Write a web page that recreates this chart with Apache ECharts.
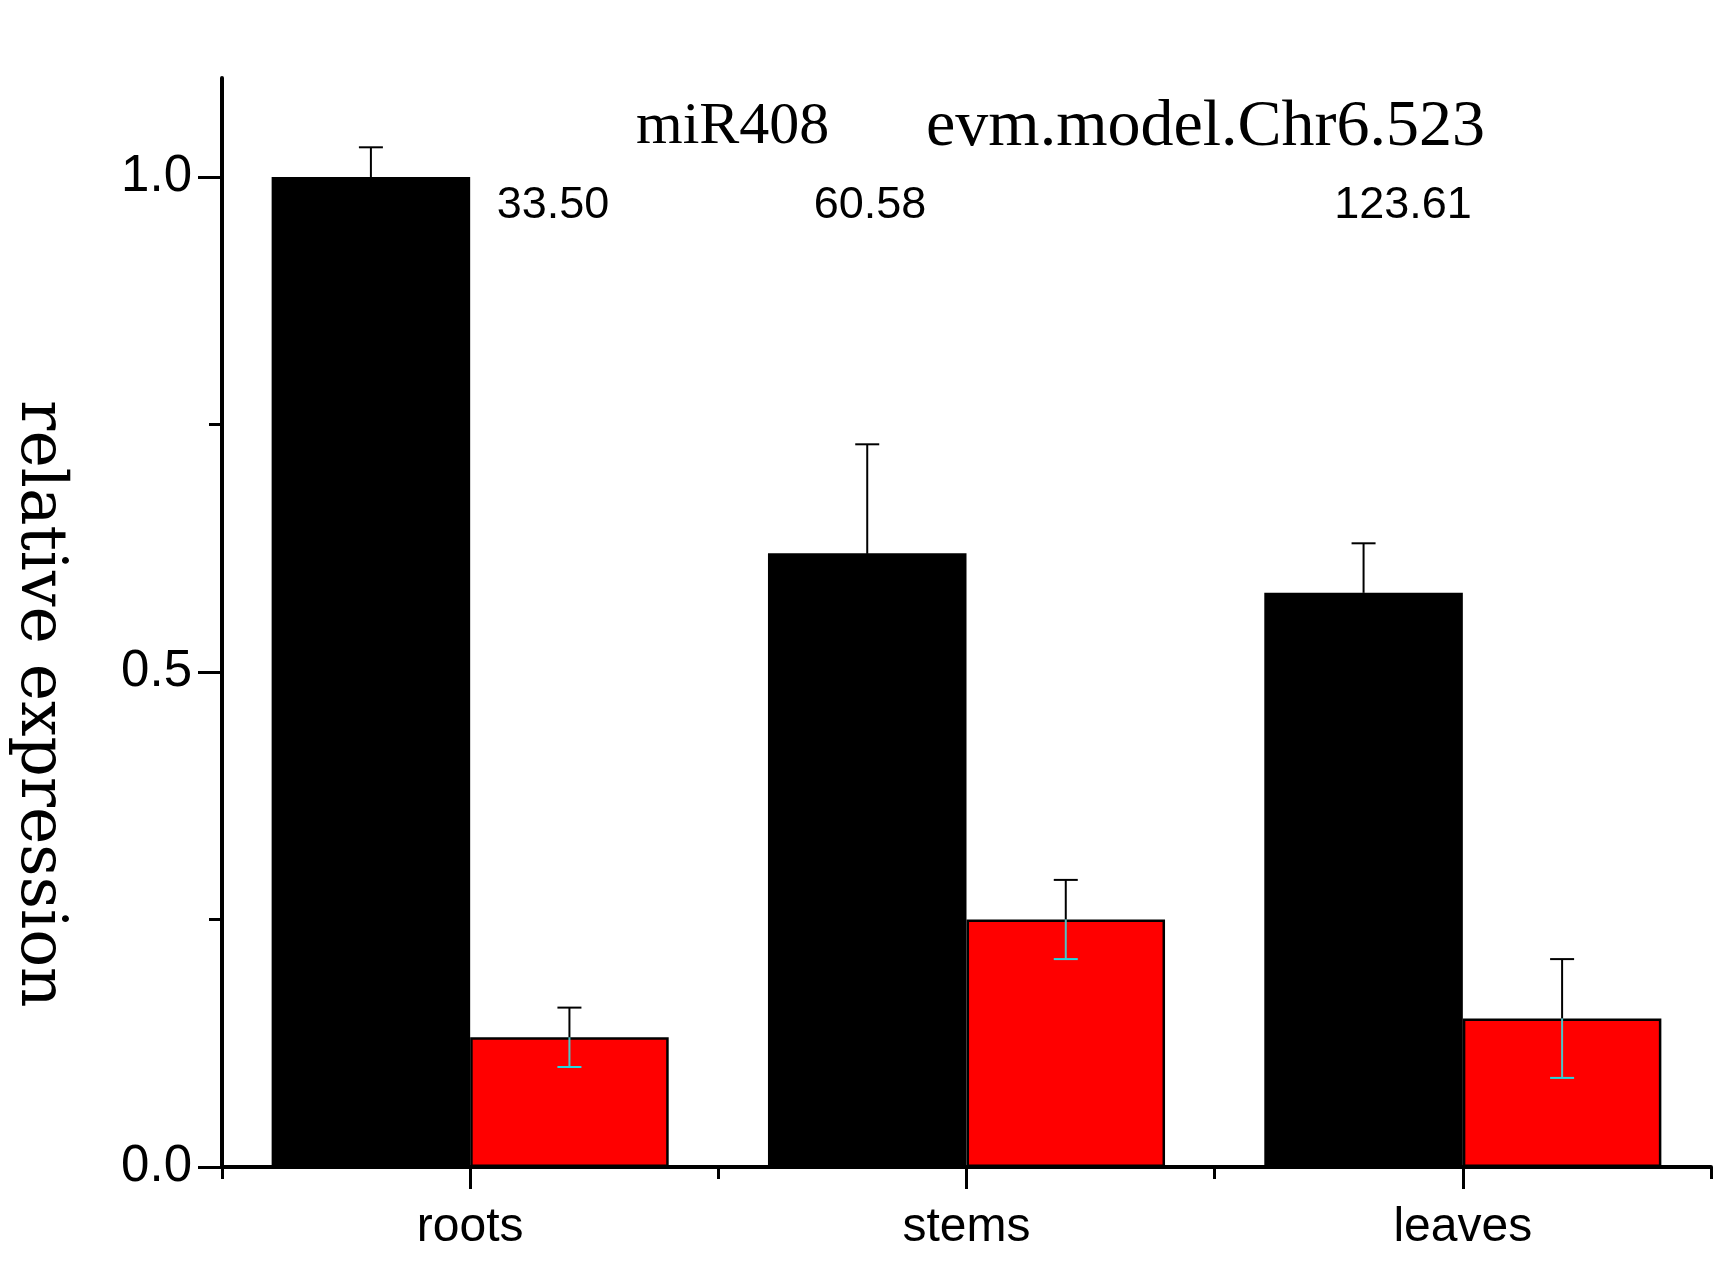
<!DOCTYPE html>
<html>
<head>
<meta charset="utf-8">
<script src="https://cdn.jsdelivr.net/npm/echarts@6/dist/echarts.min.js"></script>
<style>
html,body{margin:0;padding:0;background:#fff;}
#chart{width:1725px;height:1264px;}
</style>
</head>
<body>
<div id="chart"></div>
<script>
const categories = ['roots', 'stems', 'leaves'];
const miRValues = [1.0, 0.62, 0.58];
const miRErrors = [0.03, 0.11, 0.05];
const targetValues = [0.131, 0.25, 0.15];
const targetErrors = [0.03, 0.04, 0.06];
const ratioLabels = ['33.50', '60.58', '123.61'];
const yTicks = [0, 0.5, 1.0];
const titleLeft = 'miR408';
const titleRight = 'evm.model.Chr6.523';
const yName = 'relative expression';

const chart = echarts.init(document.getElementById('chart'));

function errItem(side, lowerColor, capColor) {
  return function (params, api) {
    const ci = api.value(0), v = api.value(1), e = api.value(2);
    const bw = api.size([1, 0])[0];
    const c = api.coord([ci, v]);
    const t = api.coord([ci, v + e]);
    const b = api.coord([ci, v - e]);
    const x = c[0] + side * bw * 0.2;
    const hw = 12;
    return {
      type: 'group',
      children: [
        {type: 'line', shape: {x1: x, y1: c[1], x2: x, y2: t[1]}, style: {stroke: '#000', lineWidth: 2}},
        {type: 'line', shape: {x1: x - hw, y1: t[1], x2: x + hw, y2: t[1]}, style: {stroke: '#000', lineWidth: 2}},
        {type: 'line', shape: {x1: x, y1: c[1], x2: x, y2: b[1]}, style: {stroke: lowerColor, lineWidth: 2}},
        {type: 'line', shape: {x1: x - hw, y1: b[1], x2: x + hw, y2: b[1]}, style: {stroke: capColor, lineWidth: 2}}
      ]
    };
  };
}

const option = {
  backgroundColor: '#fff',
  animation: false,
  grid: [
    {left: 222, right: 14, top: 78, bottom: 97},
    {left: 222, right: 14, top: 177, bottom: 97}
  ],
  xAxis: [
    {
      type: 'category', gridIndex: 0, data: categories,
      axisLine: {lineStyle: {color: '#000', width: 4}},
      axisTick: {show: true, length: 12, lineStyle: {color: '#000', width: 3}},
      axisLabel: {color: '#000', fontFamily: 'Liberation Sans', fontSize: 48, margin: 37}
    },
    {
      type: 'category', gridIndex: 1, data: categories,
      axisLine: {show: false},
      axisTick: {show: true, alignWithLabel: true, length: 22, lineStyle: {color: '#000', width: 3}},
      axisLabel: {show: false}
    }
  ],
  yAxis: [
    {
      type: 'value', gridIndex: 0, min: 0, max: 1.1,
      axisLine: {show: true, lineStyle: {color: '#000', width: 4}},
      axisTick: {show: false}, axisLabel: {show: false}, splitLine: {show: false}
    },
    {
      type: 'value', gridIndex: 1, min: 0, max: 1.0, interval: 0.5,
      axisLine: {show: false},
      axisTick: {show: true, length: 24, lineStyle: {color: '#000', width: 3}},
      minorTick: {show: true, splitNumber: 2, length: 13, lineStyle: {color: '#000', width: 3}},
      axisLabel: {
        color: '#000', fontFamily: 'Liberation Sans', fontSize: 51, margin: 30,
        formatter: function (v) { return yTicks.indexOf(v) >= 0 ? v.toFixed(1) : ''; }
      },
      splitLine: {show: false}
    }
  ],
  series: [
    {
      type: 'bar', xAxisIndex: 0, yAxisIndex: 0, data: miRValues,
      barGap: '0%', barCategoryGap: '20%',
      itemStyle: {color: '#000', borderColor: '#000', borderWidth: 2}
    },
    {
      type: 'bar', xAxisIndex: 0, yAxisIndex: 0, data: targetValues,
      barGap: '0%', barCategoryGap: '20%',
      itemStyle: {color: '#ff0000', borderColor: '#000', borderWidth: 2.5}
    },
    {
      type: 'custom', xAxisIndex: 0, yAxisIndex: 0, z: 5,
      renderItem: errItem(-1, '#000', '#000'),
      data: miRValues.map((v, i) => [i, v, miRErrors[i]])
    },
    {
      type: 'custom', xAxisIndex: 0, yAxisIndex: 0, z: 5,
      renderItem: errItem(1, '#4cc4c8', '#22d8e0'),
      data: targetValues.map((v, i) => [i, v, targetErrors[i]])
    }
  ],
  graphic: [
    {type: 'text', left: 636, top: 97, style: {text: titleLeft, font: '60px "Liberation Serif"', fill: '#000'}},
    {type: 'text', left: 926, top: 95, style: {text: titleRight, font: '66px "Liberation Serif"', fill: '#000'}},
    {type: 'text', x: 553, y: 206, style: {text: ratioLabels[0], font: '45px "Liberation Sans"', fill: '#000', textAlign: 'center', textVerticalAlign: 'middle'}},
    {type: 'text', x: 870, y: 206, style: {text: ratioLabels[1], font: '45px "Liberation Sans"', fill: '#000', textAlign: 'center', textVerticalAlign: 'middle'}},
    {type: 'text', x: 1403, y: 206, style: {text: ratioLabels[2], font: '45px "Liberation Sans"', fill: '#000', textAlign: 'center', textVerticalAlign: 'middle'}},
    {type: 'text', x: 38, y: 704, rotation: -Math.PI / 2, style: {text: yName, font: '63px "DejaVu Serif"', fill: '#000', textAlign: 'center', textVerticalAlign: 'middle'}}
  ]
};
chart.setOption(option);
</script>
</body>
</html>
